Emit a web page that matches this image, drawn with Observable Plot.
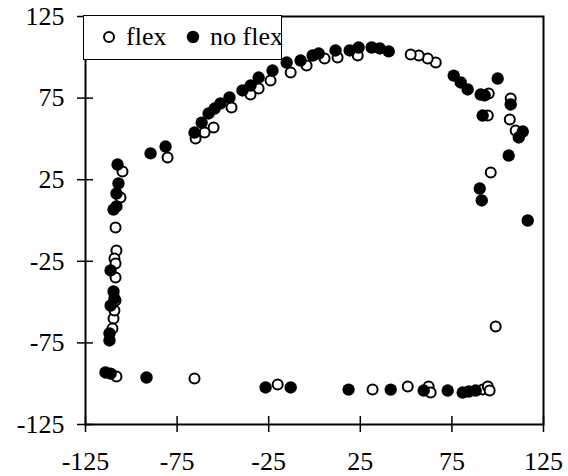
<!DOCTYPE html>
<html><head><meta charset="utf-8">
<script src="https://cdn.jsdelivr.net/npm/d3@7"></script>
<script src="https://cdn.jsdelivr.net/npm/@observablehq/plot@0.6"></script>
<style>
body{margin:0;background:#fff;}
#wrap{position:relative;width:568px;height:476px;overflow:hidden;}
#legend{position:absolute;left:83px;top:15px;width:199px;height:45px;border:1.6px solid #000;background:#fff;box-sizing:border-box;
 font-family:"Liberation Serif","Times New Roman",serif;font-size:26px;color:#000;}
#legend .item{position:absolute;top:0;height:42px;display:flex;align-items:center;white-space:nowrap;}
#legend svg{display:block;margin-right:10px;}
</style></head><body>
<div id="wrap"><div id="chart"></div><div id="legend"></div></div>
<script>
const seriesNames = ["flex", "no flex"];
const xTicks = [-125, -75, -25, 25, 75, 125];
const yTicks = [-125, -75, -25, 25, 75, 125];

const flexX = [-104.8, -105.9, -108.6, -108.1, -109.2, -108.6, -108.6, -108.6, -109.7, -110.3, -108.1, -65.5, -20.1, 31.7, 50.9, 62.3, 63.4, 91.8, 94.6, 95.6, 98.9, 96.2, 106.6, 107.1, 109.8, 94.6, 95.1, 66.2, 61.8, 56.9, 52.5, 23.6, 12.6, 5.5, -4.3, -13, -24, -30.5, -34.9, -45.3, -55.1, -60, -64.9, -80.2, -109.2];
const flexY = [30, 14.1, -4.3, -18.4, -23.3, -26.3, -34.9, -49, -60, -66.2, -95.6, -96.8, -100.5, -103.6, -101.7, -101.7, -105.4, -103.6, -101.7, -104.2, -65, 29.4, 61.9, 74.8, 55.1, 64.3, 77.8, 96.8, 99.3, 101.1, 101.7, 101.1, 99.9, 99.3, 95, 90.7, 85.8, 80.9, 77.2, 69.2, 57, 53.9, 50.2, 38.6, -55.1];

const noFlexX = [-107.5, -107, -108.1, -108.1, -109.7, -111.3, -109.7, -109.2, -111.3, -111.9, -111.9, -114.1, -111.3, -91.7, -26.7, -13, 18.6, 41.6, 59.6, 72.7, 80.9, 84.2, 88, 106, 116.4, 90.2, 91.3, 113.7, 111.5, 107.1, 91.8, 90.7, 92.9, 100, 83.6, 79.8, 76, 40.5, 35.6, 31.2, 24.1, 19.2, 11.5, 2.3, -1, -7.6, -15.2, -22.9, -30.5, -34.9, -39.3, -46.4, -51.3, -54.5, -57.8, -61.6, -65.5, -81.3, -89.5];
const noFlexY = [34.3, 22.7, 16.5, 8.6, 6.7, -30.6, -43.5, -47.8, -52.1, -69.2, -73.5, -93.1, -93.8, -96.2, -102.3, -102.3, -103.6, -103.6, -104.2, -104.2, -105.4, -104.8, -104.2, 39.8, 0, 19.6, 12.3, 54.5, 50.9, 71.1, 64.3, 77.2, 76.6, 87, 80.3, 84.6, 88.8, 103.6, 105.4, 106, 106, 104.2, 104.2, 102.3, 101.1, 98, 96.8, 91.9, 87.6, 82.7, 79.7, 75.4, 71.7, 68.6, 65.6, 60, 53.9, 45.3, 41.1];

const flexData = flexX.map((x, i) => ({x, y: flexY[i], s: seriesNames[0]}));
const noFlexData = noFlexX.map((x, i) => ({x, y: noFlexY[i], s: seriesNames[1]}));

const font = '"Liberation Serif","Times New Roman",serif';
const fmt = d => String(d);

const chart = Plot.plot({
  width: 568, height: 476,
  marginLeft: 85, marginRight: 25, marginTop: 16, marginBottom: 52,
  x: {domain: [-125, 125], label: null},
  y: {domain: [-125, 125], label: null},
  style: {fontFamily: font, fontSize: "26px", background: "#fff", color: "#000"},
  marks: [
    Plot.axisX(xTicks, {tickSize: 16, dy: -8, fill: "none", strokeWidth: 1.5, label: null}),
    Plot.axisX(xTicks, {tickSize: 0, tickPadding: 27, tickFormat: fmt, fontSize: 26, label: null}),
    Plot.axisY(yTicks, {tickSize: 16, dx: 8, fill: "none", strokeWidth: 1.5, label: null}),
    Plot.axisY(yTicks, {tickSize: 0, tickPadding: 21, tickFormat: fmt, fontSize: 26, label: null}),
    Plot.frame({stroke: "#000", strokeWidth: 2}),
    Plot.dot(flexData, {x: "x", y: "y", r: 5, fill: "#fff", stroke: "#000", strokeWidth: 2}),
    Plot.dot(noFlexData, {x: "x", y: "y", r: 6.2, fill: "#000"})
  ]
});
document.getElementById("chart").appendChild(chart);

const legend = document.getElementById("legend");
const lefts = [18, 102];
seriesNames.forEach((name, i) => {
  const item = document.createElement("div");
  item.className = "item";
  item.style.left = lefts[i] + "px";
  const circ = i === 0
    ? '<circle cx="7" cy="7" r="5" fill="#fff" stroke="#000" stroke-width="2"/>'
    : '<circle cx="7" cy="7" r="6.2" fill="#000"/>';
  item.innerHTML = '<svg width="14" height="14">' + circ + '</svg><span>' + name + '</span>';
  legend.appendChild(item);
});
</script>
</body></html>
